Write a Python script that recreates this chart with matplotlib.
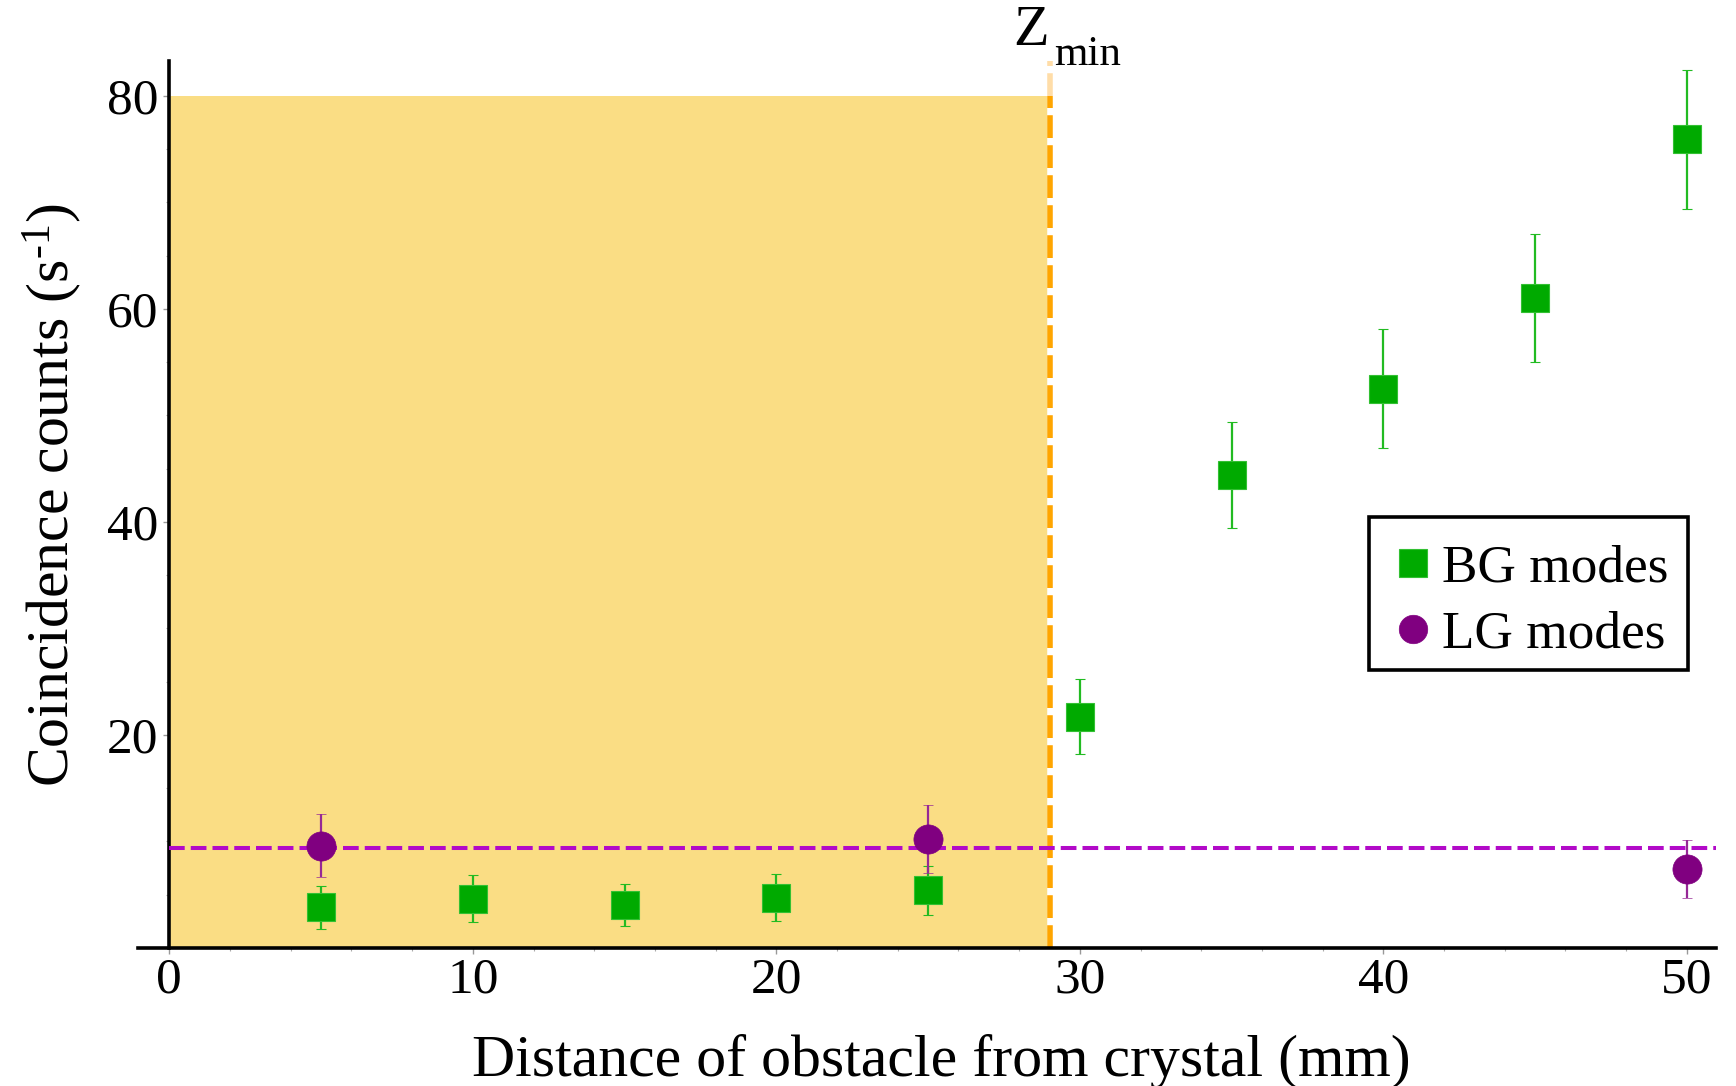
import matplotlib
matplotlib.use("Agg")
import matplotlib.pyplot as plt
from matplotlib.lines import Line2D
from matplotlib.ticker import MultipleLocator
from matplotlib.transforms import Affine2D

# Measured coincidence counts versus obstacle position
bg_x = [5, 10, 15, 20, 25, 30, 35, 40, 45, 50]
bg_y = [3.8, 4.6, 4.0, 4.7, 5.4, 21.7, 44.4, 52.5, 61.0, 75.9]
bg_err = [2.0, 2.2, 2.0, 2.2, 2.3, 3.5, 5.0, 5.6, 6.0, 6.5]

lg_x = [5, 25, 50]
lg_y = [9.6, 10.2, 7.4]
lg_err = [3.0, 3.2, 2.7]

lg_level = 9.4       # average LG coincidence rate
z_min = 29           # minimum obstacle distance
shade_top = 80       # top of the shaded near-field region

x_ticks = [0, 10, 20, 30, 40, 50]
y_ticks = [20, 40, 60, 80]

SERIF = "Liberation Serif"
plt.rcParams["font.family"] = SERIF
plt.rcParams["mathtext.fontset"] = "custom"
plt.rcParams["mathtext.rm"] = SERIF
plt.rcParams["mathtext.it"] = SERIF + ":italic"

GREEN = "#00AA00"
GREEN_ERR = "#22BB22"
PURPLE = "#800080"
PURPLE_ERR = "#962896"
MAGENTA = "#B20AC8"
ORANGE = "#FFA500"
SHADE = "#FADD84"

fig = plt.figure(figsize=(17.36, 10.86), dpi=100)
ax = fig.add_axes([0.0797, 0.1273, 0.9088, 0.8165])
ax.set_xlim(-1.02, 50.96)
ax.set_ylim(0, 83.26)

# shaded region below z_min
ax.fill_between([0, z_min], 0, shade_top, color=SHADE, lw=0, zorder=0)

# z_min marker line: white backing with orange dashes, faded above the shading
ymax = ax.get_ylim()[1]
ax.plot([z_min, z_min], [0, ymax], color="white", lw=4, zorder=1, solid_capstyle="butt")
ax.plot([z_min, z_min], [0, shade_top], color=ORANGE, lw=4,
        linestyle=(0, (4.1, 1.3)), zorder=2, dash_capstyle="butt")
ax.plot([z_min, z_min], [shade_top, ymax], color="#FFDDA8", lw=4,
        linestyle=(0, (4.1, 1.3)), zorder=2, dash_capstyle="butt")

# average LG level
ax.plot([0, ax.get_xlim()[1]], [lg_level, lg_level], color=MAGENTA, lw=2.9,
        linestyle=(0, (3.9, 1.5)), zorder=3, dash_capstyle="butt")

ax.errorbar(bg_x, bg_y, yerr=bg_err, fmt="s", ms=20.7, color=GREEN,
            mfc=GREEN, mec="#33C033", mew=0.8, ecolor=GREEN_ERR,
            elinewidth=1.6, capsize=3.8, capthick=1.6, zorder=4)
ax.errorbar(lg_x, lg_y, yerr=lg_err, fmt="o", ms=21, color=PURPLE,
            mfc=PURPLE, mec=PURPLE, mew=0.5, ecolor=PURPLE_ERR,
            elinewidth=1.6, capsize=3.8, capthick=1.6, zorder=5)

# axes crossing at the origin
for side in ("top", "right"):
    ax.spines[side].set_visible(False)
ax.spines["left"].set_position(("data", 0))
ax.spines["left"].set_bounds(0, ymax)
ax.spines["left"].set_linewidth(2.6)
ax.spines["bottom"].set_linewidth(2.6)

ax.set_xticks(x_ticks)
ax.set_yticks(y_ticks)
ax.xaxis.set_minor_locator(MultipleLocator(2))
ax.yaxis.set_minor_locator(MultipleLocator(5))
ax.tick_params(axis="both", which="major", direction="out", length=4,
               width=1, color="#999999", labelsize=37, pad=3)
ax.tick_params(axis="both", which="minor", direction="out", length=2.5,
               width=0.8, color="#aaaaaa")
ax.tick_params(axis="y", which="major", pad=4)

# z_min label
ax.text(27.80, 84.76, "Z", fontsize=42, ha="left", va="baseline", clip_on=False)
ax.text(29.15, 82.88, "min", fontsize=31, ha="left", va="baseline", clip_on=False)

fig.text(0.5420, 0.0092, "Distance of obstacle from crystal (mm)", fontsize=43,
         ha="center", va="baseline")
fig.text(0.0395, 0.5438, r"Coincidence counts (s$^{\text{-1}}$)", fontsize=43,
         ha="center", va="baseline", rotation=90, rotation_mode="anchor")

handles = [
    Line2D([], [], ls="none", marker="s", ms=20, mfc=GREEN, mec="#33C033", mew=0.8),
    Line2D([], [], ls="none", marker="o", ms=20.5, mfc=PURPLE, mec=PURPLE, mew=0.5),
]
leg = ax.legend(handles, ["BG modes", "LG modes"], loc="upper right",
                bbox_to_anchor=(0.9823, 0.4857), borderaxespad=0,
                fontsize=38.3, frameon=True, fancybox=False, framealpha=1,
                edgecolor="black", borderpad=0.37, handlelength=0.9,
                handletextpad=0.1, labelspacing=0.33)
leg.get_frame().set_linewidth(2.6)

# nudge legend rows down a little inside the frame
shift = Affine2D().translate(0, -8)
for t in leg.get_texts():
    t.set_transform(t.get_transform() + shift)
for h in leg.legend_handles:
    h.set_transform(h.get_transform() + shift)

fig.savefig("out.png", dpi=100)
